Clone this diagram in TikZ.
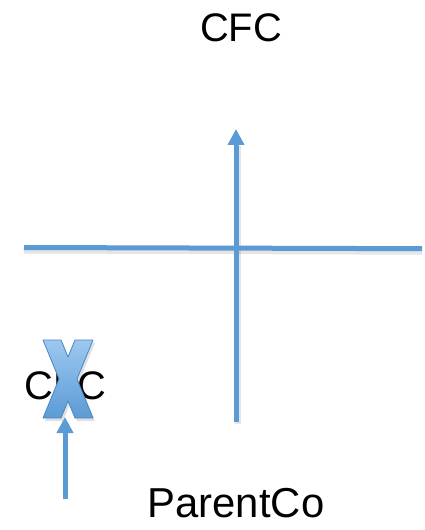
\documentclass[tikz,border=0pt]{standalone}
\usepackage{fontspec}
\setmainfont{Liberation Sans}
\usetikzlibrary{arrows.meta}
\definecolor{lineblue}{HTML}{5B9BD5}
\definecolor{xlight}{HTML}{9CC8F0}
\definecolor{xdark}{HTML}{5B9BD5}
\definecolor{xedge}{HTML}{4A86C4}
\tikzset{
  label/.style={inner sep=0pt, anchor=base, font=\fontsize{40}{48}\selectfont},
  conn/.style={draw=lineblue, line width=5bp},
  connarrow/.style={conn, -{Triangle[length=16bp,width=16bp]}},
  shadowline/.style={draw=black, opacity=0.10, line width=6bp},
  crossmark/.style={top color=xlight, bottom color=xdark, draw=xedge, line width=0.8bp, line join=round}
}
\begin{document}
\begin{tikzpicture}[x=1bp,y=-1bp]
\useasboundingbox (0,0) rectangle (424,530);
% labels
\node[label] (cfctop) at (241,42) {CFC};
\node[label, font=\fontsize{42}{50}\selectfont] (parent) at (236,517) {ParentCo};
\node[label] (cfcbot) at (65.5,399) {CFC};
% coordinates
\coordinate (vbot) at (236,422);
\coordinate (vtop) at (236,129);
\coordinate (hleft) at (24,247.5);
\coordinate (hright) at (422,248.7);
\coordinate (sbot) at (65,499);
\coordinate (stop) at (65,417);
% shadows
\draw[shadowline] ([yshift=-3bp]hleft) -- ([yshift=-3bp]hright);
\draw[shadowline] ([xshift=2bp,yshift=-2bp]vbot) -- ([xshift=2bp]vtop |- 0,146);
% lines
\draw[conn] (hleft) -- (hright);
\draw[connarrow] (vbot) -- (vtop);
\draw[connarrow] (sbot) -- (stop);
% cross over the F
\begin{scope}[shift={(68,379)}]
\fill[black, opacity=0.12] (-25+2,-39+3) -- (-7+2,-39+3) -- (0+2,-22+3) -- (7+2,-39+3) -- (25+2,-39+3) -- (9+2,0+3) -- (25+2,39+3) -- (7+2,39+3) -- (0+2,22+3) -- (-7+2,39+3) -- (-25+2,39+3) -- (-9+2,0+3) -- cycle;
\path[crossmark] (-25,-39) -- (-7,-39) -- (0,-22) -- (7,-39) -- (25,-39) -- (9,0) -- (25,39) -- (7,39) -- (0,22) -- (-7,39) -- (-25,39) -- (-9,0) -- cycle;
\end{scope}
\end{tikzpicture}
\end{document}
